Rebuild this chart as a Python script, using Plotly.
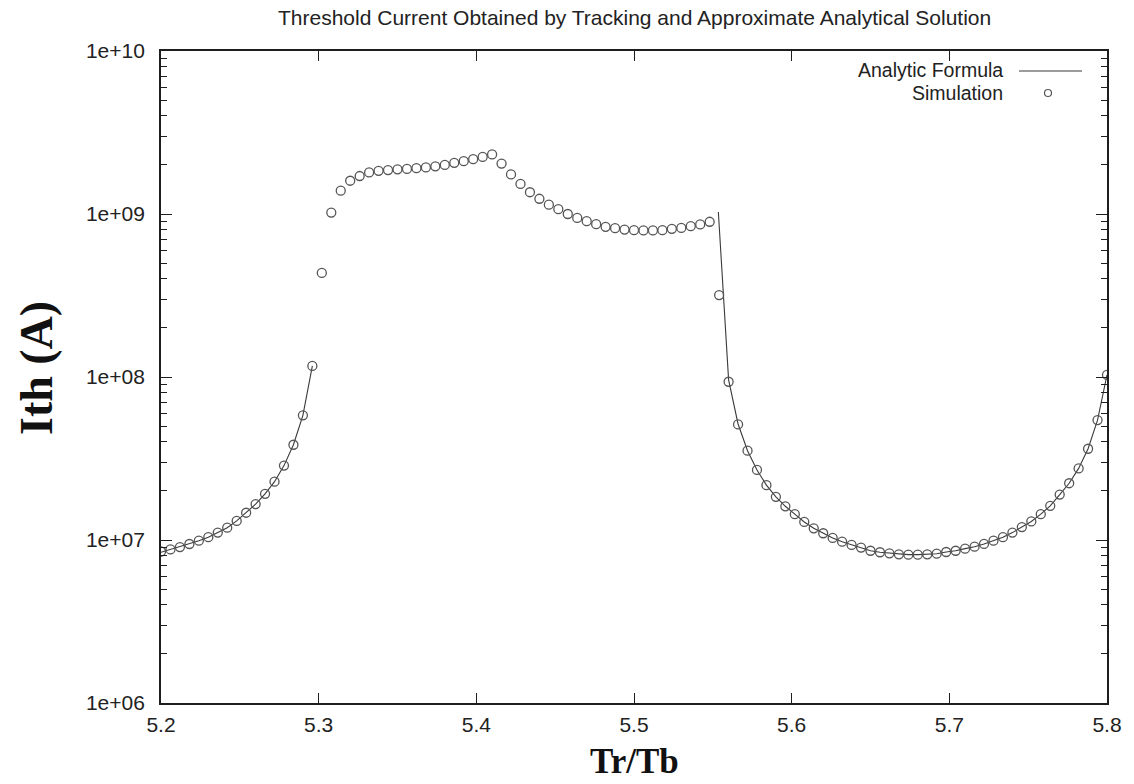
import plotly.graph_objects as go

# Revolution-to-bunch period ratio, sampled every 0.006
tr_tb = [
    5.200, 5.206, 5.212, 5.218, 5.224, 5.230, 5.236, 5.242, 5.248, 5.254,
    5.260, 5.266, 5.272, 5.278, 5.284, 5.290, 5.296, 5.302, 5.308, 5.314,
    5.320, 5.326, 5.332, 5.338, 5.344, 5.350, 5.356, 5.362, 5.368, 5.374,
    5.380, 5.386, 5.392, 5.398, 5.404, 5.410, 5.416, 5.422, 5.428, 5.434,
    5.440, 5.446, 5.452, 5.458, 5.464, 5.470, 5.476, 5.482, 5.488, 5.494,
    5.500, 5.506, 5.512, 5.518, 5.524, 5.530, 5.536, 5.542, 5.548, 5.554,
    5.560, 5.566, 5.572, 5.578, 5.584, 5.590, 5.596, 5.602, 5.608, 5.614,
    5.620, 5.626, 5.632, 5.638, 5.644, 5.650, 5.656, 5.662, 5.668, 5.674,
    5.680, 5.686, 5.692, 5.698, 5.704, 5.710, 5.716, 5.722, 5.728, 5.734,
    5.740, 5.746, 5.752, 5.758, 5.764, 5.770, 5.776, 5.782, 5.788, 5.794,
    5.800,
]

# Threshold current from tracking (A)
ith_sim = [
    8.50e6, 8.75e6, 9.05e6, 9.45e6, 9.90e6, 1.04e7, 1.11e7, 1.19e7, 1.31e7, 1.47e7,
    1.66e7, 1.92e7, 2.28e7, 2.86e7, 3.84e7, 5.82e7, 1.17e8, 4.35e8, 1.02e9, 1.39e9,
    1.60e9, 1.71e9, 1.80e9, 1.84e9, 1.86e9, 1.88e9, 1.89e9, 1.91e9, 1.93e9, 1.96e9,
    2.00e9, 2.06e9, 2.11e9, 2.17e9, 2.24e9, 2.32e9, 2.04e9, 1.75e9, 1.53e9, 1.36e9,
    1.24e9, 1.14e9, 1.07e9, 1.00e9, 9.46e8, 9.03e8, 8.66e8, 8.34e8, 8.18e8, 8.03e8,
    7.96e8, 7.93e8, 7.93e8, 7.96e8, 8.11e8, 8.22e8, 8.42e8, 8.63e8, 8.96e8, 3.18e8,
    9.35e7, 5.12e7, 3.53e7, 2.69e7, 2.17e7, 1.84e7, 1.61e7, 1.44e7, 1.29e7, 1.18e7,
    1.10e7, 1.03e7, 9.77e6, 9.33e6, 8.98e6, 8.59e6, 8.41e6, 8.29e6, 8.17e6, 8.13e6,
    8.13e6, 8.17e6, 8.24e6, 8.44e6, 8.59e6, 8.85e6, 9.10e6, 9.46e6, 9.91e6, 1.04e7,
    1.11e7, 1.20e7, 1.30e7, 1.44e7, 1.62e7, 1.90e7, 2.23e7, 2.75e7, 3.63e7, 5.44e7,
    1.03e8,
]

# Approximate analytical solution: two branches, gap (None) in between
formula_x = [
    5.200, 5.206, 5.212, 5.218, 5.224, 5.230, 5.236, 5.242, 5.248, 5.254,
    5.260, 5.266, 5.272, 5.278, 5.284, 5.290, 5.296,
    None,
    5.5535, 5.5567, 5.560, 5.566, 5.572, 5.578, 5.584, 5.590, 5.596, 5.602,
    5.608, 5.614, 5.620, 5.626, 5.632, 5.638, 5.644, 5.650, 5.656, 5.662,
    5.668, 5.674, 5.680, 5.686, 5.692, 5.698, 5.704, 5.710, 5.716, 5.722,
    5.728, 5.734, 5.740, 5.746, 5.752, 5.758, 5.764, 5.770, 5.776, 5.782,
    5.788, 5.794, 5.800,
]
formula_ith = [
    8.40e6, 8.75e6, 9.05e6, 9.45e6, 9.90e6, 1.04e7, 1.11e7, 1.19e7, 1.31e7, 1.47e7,
    1.66e7, 1.92e7, 2.28e7, 2.86e7, 3.84e7, 5.82e7, 1.17e8,
    None,
    1.03e9, 3.20e8, 9.60e7, 5.15e7, 3.53e7, 2.69e7, 2.17e7, 1.84e7, 1.61e7, 1.44e7,
    1.29e7, 1.18e7, 1.10e7, 1.03e7, 9.77e6, 9.33e6, 8.98e6, 8.59e6, 8.41e6, 8.29e6,
    8.17e6, 8.13e6, 8.13e6, 8.17e6, 8.24e6, 8.44e6, 8.59e6, 8.85e6, 9.10e6, 9.46e6,
    9.91e6, 1.04e7, 1.11e7, 1.20e7, 1.30e7, 1.44e7, 1.62e7, 1.90e7, 2.23e7, 2.75e7,
    3.63e7, 5.44e7, 1.03e8,
]

x_ticks = [5.2, 5.3, 5.4, 5.5, 5.6, 5.7, 5.8]
x_ticktext = ["5.2", "5.3", "5.4", "5.5", "5.6", "5.7", "5.8"]
y_ticks = [1e6, 1e7, 1e8, 1e9, 1e10]
y_ticktext = ["1e+06", "1e+07", "1e+08", "1e+09", "1e+10"]
y_minor = [m * 10 ** e for e in range(6, 10) for m in range(2, 10)]

# Figure geometry (pixels)
W, H = 1134, 784
L, R, T, B = 161, 27, 51, 81
PW, PH = W - L - R, H - T - B


def px(xp):
    return (xp - L) / PW


def py(yp):
    return (H - B - yp) / PH


SANS = "Liberation Sans, Arial, Helvetica, sans-serif"
SERIF = "Liberation Serif, Times New Roman, serif"
INK = "#1e1e1e"

fig = go.Figure()

fig.add_trace(go.Scatter(
    x=formula_x, y=formula_ith, mode="lines", name="Analytic Formula",
    line=dict(color="#3a3a3a", width=1.1), connectgaps=False,
    showlegend=False, hoverinfo="skip",
))
fig.add_trace(go.Scatter(
    x=tr_tb, y=ith_sim, mode="markers", name="Simulation",
    marker=dict(symbol="circle-open", size=9, color="#555555",
                line=dict(width=1.3, color="#555555")),
    showlegend=False,
))

axis_common = dict(
    showline=True, linecolor=INK, linewidth=1.8, mirror="allticks",
    ticks="inside", tickcolor=INK, tickwidth=1.4, showgrid=False,
    zeroline=False, tickfont=dict(family=SANS, size=21, color="#222222"),
)

fig.update_xaxes(
    range=[5.2, 5.8], tickvals=x_ticks, ticktext=x_ticktext, ticklen=10,
    ticklabelstandoff=2, **axis_common,
)
fig.update_yaxes(
    type="log", range=[6, 10], tickvals=y_ticks, ticktext=y_ticktext,
    ticklen=11, ticklabelstandoff=10,
    minor=dict(tickvals=y_minor, ticks="inside", ticklen=6, tickwidth=1.3,
               tickcolor=INK, showgrid=False),
    **axis_common,
)

annotations = [
    dict(text="Threshold Current Obtained by Tracking and Approximate Analytical Solution",
         x=px(634), y=py(17), font=dict(family=SANS, size=21, color="#222222")),
    dict(text="<b>Ith (A)</b>", x=px(36), y=py(368), textangle=-90,
         font=dict(family=SERIF, size=46, color="#111111")),
    dict(text="<b>Tr/Tb</b>", x=px(634), y=py(783), yanchor="bottom",
         font=dict(family=SERIF, size=35, color="#111111")),
    dict(text="Analytic Formula", x=px(1005), y=py(70), xanchor="right",
         font=dict(family=SANS, size=19.5, color="#222222")),
    dict(text="Simulation", x=px(1005), y=py(93), xanchor="right",
         font=dict(family=SANS, size=19.5, color="#222222")),
]
for a in annotations:
    a.setdefault("xanchor", "center")
    a.setdefault("yanchor", "middle")
    a.update(xref="paper", yref="paper", showarrow=False)
fig.update_layout(annotations=annotations)

# Legend keys
fig.add_shape(type="line", xref="paper", yref="paper",
              x0=px(1019), x1=px(1082), y0=py(71), y1=py(71),
              line=dict(color="#3a3a3a", width=1.1))
fig.add_shape(type="circle", xref="paper", yref="paper",
              xsizemode="pixel", ysizemode="pixel",
              xanchor=px(1048), yanchor=py(93),
              x0=-3.5, x1=3.5, y0=-3.5, y1=3.5,
              line=dict(color="#555555", width=1.2))

fig.update_layout(
    width=W, height=H,
    margin=dict(l=L, r=R, t=T, b=B, pad=0),
    paper_bgcolor="#ffffff", plot_bgcolor="#ffffff",
    showlegend=False,
)

fig.write_html("out.html")
